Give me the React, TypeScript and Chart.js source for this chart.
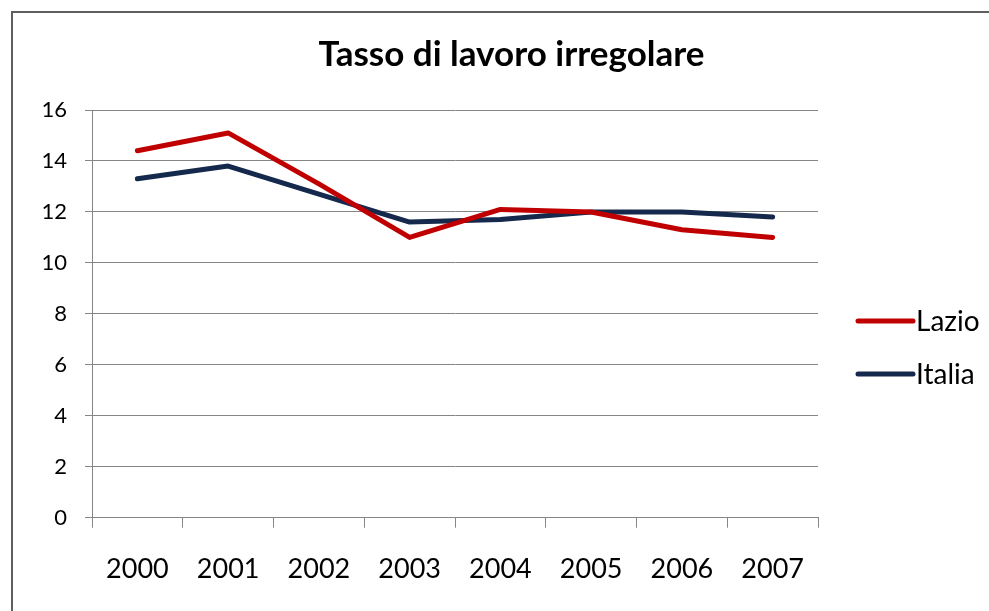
import React, { useEffect, useRef } from "react";
import { Chart, registerables } from "chart.js";

Chart.register(...registerables);

const years = ["2000", "2001", "2002", "2003", "2004", "2005", "2006", "2007"];
const lazio = [14.4, 15.1, 13.1, 11.0, 12.1, 12.0, 11.3, 11.0];
const italia = [13.3, 13.8, 12.7, 11.6, 11.7, 12.0, 12.0, 11.8];
const seriesNames = ["Lazio", "Italia"];
const seriesColors = ["#C00000", "#14294B"];
const titleText = "Tasso di lavoro irregolare";
const yMin = 0;
const yMax = 16;
const yStep = 2;

const FONT = "Lato, 'Open Sans', sans-serif";
const GRID = "#868686";

const sideLegend = {
  id: "sideLegend",
  afterDraw(chart: any) {
    const ctx = chart.ctx;
    const area = chart.chartArea;
    const x0 = area.right + 40;
    const x1 = x0 + 55;
    const ys = [308, 361];
    chart.data.datasets.forEach((ds: any, i: number) => {
      ctx.save();
      ctx.strokeStyle = ds.borderColor;
      ctx.lineWidth = 5;
      ctx.lineCap = "round";
      ctx.beginPath();
      ctx.moveTo(x0, ys[i]);
      ctx.lineTo(x1, ys[i]);
      ctx.stroke();
      ctx.fillStyle = "#000";
      ctx.font = `28px ${FONT}`;
      ctx.textBaseline = "middle";
      ctx.textAlign = "left";
      ctx.fillText(ds.label, x1 + 3, ys[i] + 1);
      ctx.restore();
    });
  },
};

export default function App() {
  const ref = useRef<HTMLCanvasElement | null>(null);

  useEffect(() => {
    document.body.style.margin = "0";
    const canvas = ref.current;
    if (!canvas) return;
    const chart = new Chart(canvas, {
      type: "line",
      data: {
        labels: years,
        datasets: [
          {
            label: seriesNames[0],
            data: lazio,
            borderColor: seriesColors[0],
            backgroundColor: seriesColors[0],
            borderWidth: 5,
            pointRadius: 0,
            tension: 0,
            borderCapStyle: "round",
            borderJoinStyle: "round",
          },
          {
            label: seriesNames[1],
            data: italia,
            borderColor: seriesColors[1],
            backgroundColor: seriesColors[1],
            borderWidth: 5,
            pointRadius: 0,
            tension: 0,
            borderCapStyle: "round",
            borderJoinStyle: "round",
          },
        ],
      },
      options: {
        responsive: false,
        animation: false,
        layout: { padding: { left: 0, right: 0, top: 0, bottom: 0 } },
        plugins: {
          legend: { display: false },
          tooltip: { enabled: false },
          title: {
            display: true,
            text: titleText,
            color: "#000",
            font: { family: FONT, size: 35, weight: "bold" },
            padding: { top: 21, bottom: 34 },
          },
        },
        scales: {
          x: {
            type: "category",
            offset: true,
            grid: {
              display: true,
              drawOnChartArea: false,
              drawTicks: true,
              tickLength: 10,
              offset: true,
              color: GRID,
            },
            border: { display: true, color: GRID, width: 1 },
            ticks: {
              color: "#000",
              font: { family: FONT, size: 27 },
              padding: 25,
              maxRotation: 0,
              autoSkip: false,
            },
            afterFit(scale: any) {
              scale.height = 93.3;
            },
          },
          y: {
            min: yMin,
            max: yMax,
            grid: {
              display: true,
              drawOnChartArea: true,
              drawTicks: true,
              tickLength: 7,
              color: GRID,
            },
            border: { display: true, color: GRID, width: 1 },
            ticks: {
              stepSize: yStep,
              color: "#000",
              font: { family: FONT, size: 22 },
              padding: 18,
            },
            afterFit(scale: any) {
              scale.width = 79;
            },
          },
          legendSpace: {
            type: "linear",
            position: "right",
            display: true,
            min: 0,
            max: 1,
            grid: { display: false },
            border: { display: false },
            ticks: { display: false },
            afterFit(scale: any) {
              scale.width = 192;
            },
          },
        },
      },
      plugins: [sideLegend],
    });
    return () => chart.destroy();
  }, []);

  return (
    <div
      style={{
        position: "absolute",
        left: 0,
        top: 0,
        width: 989,
        height: 611,
        overflow: "hidden",
        background: "#fff",
      }}
    >
      <div
        style={{
          position: "absolute",
          left: 11,
          top: 11,
          width: 997,
          height: 598,
          border: "2px solid #5e5e5e",
          background: "#fff",
        }}
      >
        <canvas ref={ref} width={997} height={598} style={{ display: "block" }} />
      </div>
    </div>
  );
}
